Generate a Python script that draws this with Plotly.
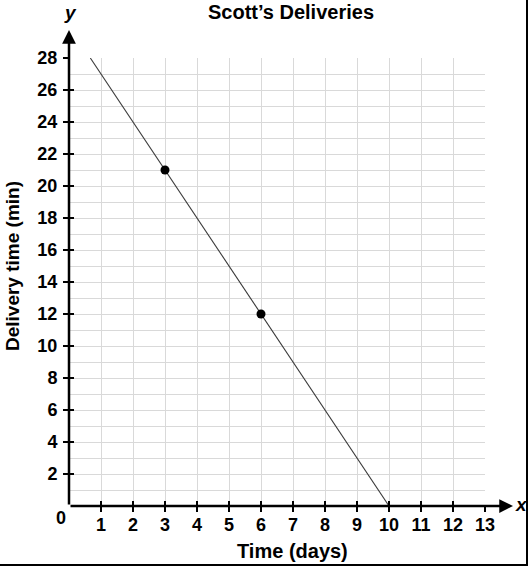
import plotly.graph_objects as go

# Data
line_x = [2/3, 10]
line_y = [28, 0]
point_x = [3, 6]
point_y = [21, 12]
x_ticks = list(range(1, 14))
y_ticks = list(range(2, 29, 2))

title_text = "Scott\u2019s Deliveries"
x_title = "Time (days)"
y_title = "Delivery time (min)"

W, H = 528, 566
L, R, T, B = 69, 43, 58, 60
pw = W - L - R
ph = H - T - B

FONT = "Liberation Sans, Arial, sans-serif"

fig = go.Figure()
fig.add_trace(go.Scatter(x=line_x, y=line_y, mode="lines",
                         line=dict(color="#3a3a3a", width=1.1),
                         hoverinfo="skip", showlegend=False))
fig.add_trace(go.Scatter(x=point_x, y=point_y, mode="markers",
                         marker=dict(color="black", size=9),
                         showlegend=False))
# invisible traces for overlay axes
fig.add_trace(go.Scatter(x=[0], y=[0], xaxis="x2", yaxis="y2", mode="markers",
                         marker=dict(opacity=0), showlegend=False, hoverinfo="skip"))

grid = "#d9d9d9"
tickfont = dict(family=FONT, size=18, color="black", weight="bold")

fig.update_layout(
    width=W, height=H,
    margin=dict(l=L, r=R, t=T, b=B, autoexpand=False),
    paper_bgcolor="white", plot_bgcolor="white",
    showlegend=False,
    xaxis=dict(range=[0, 13], tickvals=x_ticks, ticks="outside", ticklen=5,
               tickwidth=2, tickcolor="black", showgrid=True, gridcolor=grid,
               gridwidth=1, zeroline=False, showline=False, tickfont=tickfont,
               ticklabelstandoff=-3, fixedrange=True, automargin=False),
    yaxis=dict(range=[0, 28], tickvals=y_ticks, ticks="outside", ticklen=5,
               tickwidth=2, tickcolor="black", showgrid=True, gridcolor=grid,
               gridwidth=1, zeroline=False, showline=False, tickfont=tickfont,
               ticklabelstandoff=2,
               minor=dict(dtick=1, tick0=0, showgrid=True, gridcolor=grid, gridwidth=1),
               fixedrange=True, automargin=False),
    xaxis2=dict(range=[0, 13], overlaying="x", anchor="y2", tickvals=[0] + x_ticks,
                ticks="inside", ticklen=5, tickwidth=2, tickcolor="black",
                showticklabels=False, showgrid=False, zeroline=False, showline=False),
    yaxis2=dict(range=[0, 28], overlaying="y", anchor="x2", side="left", tickvals=y_ticks,
                ticks="inside", ticklen=5, tickwidth=2, tickcolor="black",
                showticklabels=False, showgrid=False, zeroline=False, showline=False),
)

def px_x(p):
    return (p - L) / pw

def px_y(p):
    return (T + ph - p) / ph

ann = []
# axes with arrows (pixel offsets from tip back to origin)
ann.append(dict(xref="paper", yref="paper", x=px_x(513), y=0, ax=-(513 - L), ay=0,
                showarrow=True, arrowhead=2, arrowsize=1.1, arrowwidth=2.5,
                arrowcolor="black", text=""))
ann.append(dict(xref="paper", yref="paper", x=0, y=px_y(30), ax=0, ay=(T + ph - 30),
                showarrow=True, arrowhead=2, arrowsize=1.1, arrowwidth=2.5,
                arrowcolor="black", text=""))

def label(xp, yp, text, size, angle=0):
    ann.append(dict(xref="paper", yref="paper", x=px_x(xp), y=px_y(yp), text=text,
                    showarrow=False, xanchor="center", yanchor="middle", textangle=angle,
                    font=dict(family=FONT, size=size, color="black", weight="bold")))

label(291, 12, title_text, 20)
label(292, 551, x_title, 20)
label(12, 266, y_title, 19, -90)
label(61, 518, "0", 18)
label(70, 13, "<i>y</i>", 19)
label(521, 504, "<i>x</i>", 19)
fig.update_layout(annotations=ann)

# image frame lines (right and bottom)
fig.add_shape(type="line", xref="paper", yref="paper",
              x0=px_x(527), x1=px_x(527), y0=px_y(0), y1=px_y(566),
              line=dict(color="black", width=2))
fig.add_shape(type="line", xref="paper", yref="paper",
              x0=px_x(0), x1=px_x(528), y0=px_y(565), y1=px_y(565),
              line=dict(color="black", width=2))

fig.write_html("out.html", config={"displayModeBar": False},
               post_script="document.body.style.margin='0';")
